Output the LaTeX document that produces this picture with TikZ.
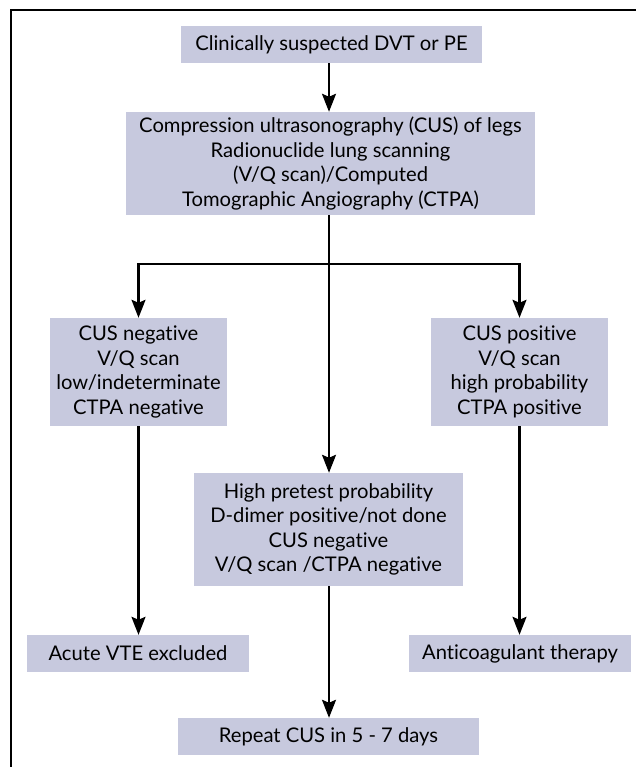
\documentclass[tikz,border=0pt]{standalone}
\usepackage{fontspec}
\setmainfont{Lato}[Ligatures={NoCommon}]
\usetikzlibrary{arrows.meta}
\definecolor{boxfill}{RGB}{199,201,222}
\begin{document}
\begin{tikzpicture}[x=1pt,y=-1pt,
  box/.style={fill=boxfill, draw=none, inner sep=0pt, align=center, font=\fontsize{20.2}{24.5}\selectfont},
  conn/.style={line width=2.2pt, -{Stealth[length=18pt,width=14pt,inset=3pt]}},
  plain/.style={line width=2.2pt},
  frame/.style={line width=2.6pt}]
\useasboundingbox (0,0) rectangle (636,767);
\draw[frame] (11,768) -- (11,10) -- (637,10);
\coordinate (cx) at (329,0);
\node[box, minimum width=301pt, minimum height=37pt] (b1) at (331.5,44.5) {Clinically suspected DVT or PE};
\node[box, minimum width=409pt, minimum height=103pt] (b2) at (330.5,163.5) {Compression ultrasonography (CUS) of legs\\Radionuclide lung scanning\\(V/Q scan)/Computed\\Tomographic Angiography (CTPA)};
\node[box, minimum width=177pt, minimum height=108pt] (left) at (138.5,372) {CUS negative\\V/Q scan\\low/indeterminate\\CTPA negative};
\node[box, minimum width=177pt, minimum height=108pt] (right) at (519.5,372) {CUS positive\\V/Q scan\\high probability\\CTPA positive};
\node[box, minimum width=269pt, minimum height=113pt] (mid) at (328.5,529.5) {High pretest probability\\D-dimer positive/not done\\CUS negative\\V/Q scan /CTPA negative};
\node[box, minimum width=222pt, minimum height=37pt] (acute) at (138,653.5) {Acute VTE excluded};
\node[box, minimum width=222pt, minimum height=37pt] (anti) at (520,653.5) {Anticoagulant therapy};
\node[box, minimum width=301pt, minimum height=37pt] (rep) at (328.5,736.5) {Repeat CUS in 5 - 7 days};
\coordinate (split) at (329,264);
\draw[conn] (b1.south -| cx) -- (b2.north -| cx);
\draw[plain] (b2.south -| cx) -- (split);
\draw[conn] (split) -| (left.north);
\draw[conn] (split) -| (right.north);
\draw[conn] (split) -- (mid.north -| cx);
\draw[conn] (left.south) -- (acute.north -| left.south);
\draw[conn] (right.south) -- (anti.north -| right.south);
\draw[conn] (mid.south -| cx) -- (rep.north -| cx);
\end{tikzpicture}
\end{document}
